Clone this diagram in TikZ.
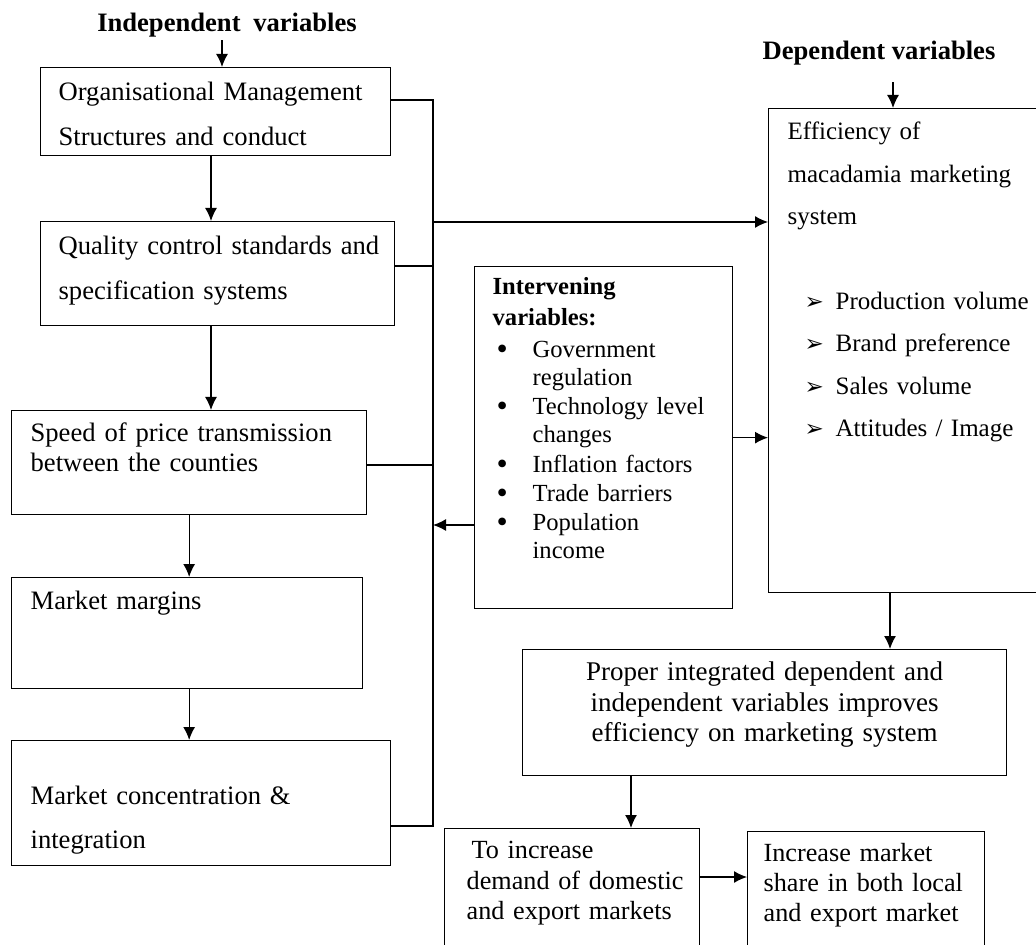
\documentclass[tikz,border=0pt]{standalone}
\usepackage{fontspec}
\setmainfont{Liberation Serif}
\newfontfamily\symfont{DejaVu Sans}
\usetikzlibrary{arrows.meta}
\newcommand\arrowbullet{{\symfont\fontsize{11.5}{11.5}\selectfont ➢}}
\newcommand\dotbullet{\raisebox{-1pt}{\fontsize{16}{16}\selectfont •}}

\tikzset{
  box/.style={draw, line width=0.65pt, anchor=north west, align=left,
    inner ysep=0pt, font=\fontsize{13.3}{22.5}\selectfont},
  title/.style={anchor=base, inner sep=1pt, font=\fontsize{13.3}{16}\selectfont\bfseries},
  link/.style={line width=0.65pt},
  flow/.style={line width=0.65pt, -{Latex[length=6.5pt,width=6pt]}}
}

\begin{document}
\begin{tikzpicture}[x=0.5pt, y=-0.5pt]
\useasboundingbox (0,0) rectangle (1036,945);
\clip (0,0) rectangle (1036,945);

% titles
\node[title] (indep) at (227,32) {Independent\hspace{3pt} variables};
\node[title] (dep) at (879,60) {Dependent variables};

% independent variables
\node[box, inner xsep=9pt, text width=157pt, text height=16.5pt, text depth=27.5pt] (org) at (40,67)
  {Organisational Management\\Structures and conduct};
\node[box, inner xsep=9pt, text width=159pt, text height=16.5pt, text depth=35.5pt] (qual) at (40,221)
  {\mbox{Quality control standards and}\\specification systems};
\node[box, inner xsep=9.5pt, text width=158.5pt, text height=15.5pt, text depth=36.5pt,
  font=\fontsize{13.3}{15}\selectfont] (speed) at (11,410)
  {Speed of price transmission\\between the counties};
\node[box, inner xsep=9.5pt, text width=156.5pt, text height=16pt, text depth=39.5pt] (margin) at (11,577)
  {Market margins};
\node[box, inner xsep=9.5pt, text width=170.5pt, text height=32pt, text depth=30.5pt,
  font=\fontsize{13.3}{22}\selectfont] (conc) at (11,740)
  {Market concentration \&\\integration};

% intervening variables
\node[box, inner xsep=9pt, text width=111pt, text height=14pt, text depth=157pt,
  font=\fontsize{12.3}{14}\selectfont] (interv) at (474,266)
  {\textbf{Intervening}\\[1.5pt]\textbf{variables:}\\[2pt]
   \hspace*{2pt}\makebox[18pt][l]{\dotbullet}Government\\\hspace*{20pt}regulation\\[0.6pt]
   \hspace*{2pt}\makebox[18pt][l]{\dotbullet}Technology level\\\hspace*{20pt}changes\\[0.6pt]
   \hspace*{2pt}\makebox[18pt][l]{\dotbullet}Inflation factors\\[0.6pt]
   \hspace*{2pt}\makebox[18pt][l]{\dotbullet}Trade barriers\\[0.6pt]
   \hspace*{2pt}\makebox[18pt][l]{\dotbullet}Population\\\hspace*{20pt}income};

% dependent variables
\node[box, inner xsep=9.5pt, text width=130pt, text height=15.5pt, text depth=226.5pt,
  font=\fontsize{12.5}{21.2}\selectfont] (eff) at (768,108)
  {Efficiency of\\macadamia marketing\\system\\[21.2pt]
   \hspace*{8.5pt}\makebox[15.5pt][l]{\arrowbullet}Production volume\\
   \hspace*{8.5pt}\makebox[15.5pt][l]{\arrowbullet}Brand preference\\
   \hspace*{8.5pt}\makebox[15.5pt][l]{\arrowbullet}Sales volume\\
   \hspace*{8.5pt}\makebox[15.5pt][l]{\arrowbullet}Attitudes / Image};

% outcomes
\node[box, align=center, inner xsep=1pt, text width=240pt, text height=15.5pt, text depth=47.5pt,
  font=\fontsize{13.5}{15.25}\selectfont] (proper) at (522,649)
  {Proper integrated dependent and\\independent variables improves\\efficiency on marketing system};
\node[box, inner xsep=11pt, text width=105.5pt, text height=15pt, text depth=61pt,
  font=\fontsize{13.1}{15.25}\selectfont] (toinc) at (444,828)
  {\hspace*{2.5pt}To increase\\\mbox{demand of domestic}\\\mbox{and export markets}};
\node[box, inner xsep=8pt, text width=102.5pt, text height=15pt, text depth=60pt,
  font=\fontsize{13.1}{15}\selectfont] (incr) at (747,831)
  {Increase market\\\mbox{share in both local}\\\mbox{and export market}};

% points on the joining line and arrow columns
\coordinate (bo) at (433,100);
\coordinate (be) at (433,222);
\coordinate (bq) at (433,266);
\coordinate (bs) at (433,465);
\coordinate (bi) at (433,525);
\coordinate (bc) at (433,826);
\coordinate (a1) at (211,0);
\coordinate (ep) at (890,0);
\coordinate (pt) at (631,0);
\coordinate (ti) at (700,877);

% connectors
\draw[flow] ([xshift=-2.5pt]indep.south) -- ([xshift=-2.5pt]indep.south |- org.north);
\draw[flow] ([xshift=7pt,yshift=-7pt]dep.south) -- ([xshift=7pt]dep.south |- eff.north);
\draw[flow] (org.south -| a1) -- (qual.north -| a1);
\draw[flow] (qual.south -| a1) -- (speed.north -| a1);
\draw[flow] (speed.south) -- (speed.south |- margin.north);
\draw[flow] (speed.south |- margin.south) -- (speed.south |- conc.north);
\draw[link] (org.east |- bo) -- (bo) -- (bc) -- (conc.east |- bc);
\draw[link] (qual.east |- bq) -- (bq);
\draw[link] (speed.east |- bs) -- (bs);
\draw[flow] (be) -- (be -| eff.west);
\draw[flow] (interv.west |- bi) -- (bi);
\draw[flow] (interv.east) -- (interv.east -| eff.west);
\draw[flow] (eff.south -| ep) -- (proper.north -| ep);
\draw[flow] (proper.south -| pt) -- (toinc.north -| pt);
\draw[flow] (toinc.east |- ti) -- (incr.west |- ti);
\end{tikzpicture}
\end{document}
